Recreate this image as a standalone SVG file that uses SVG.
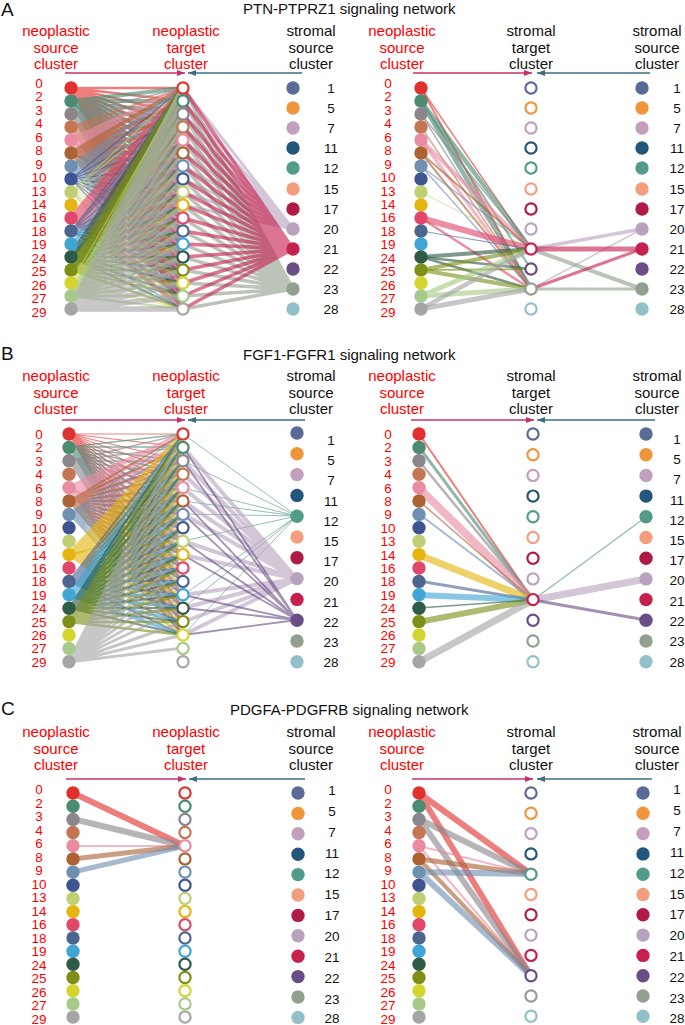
<svg xmlns="http://www.w3.org/2000/svg" width="685" height="1025" viewBox="0 0 685 1025">
<style>
text{font-family:"Liberation Sans",Arial,sans-serif}
.ttl{font-size:15px;fill:#111}
.pl{font-size:19px;fill:#111}
.h{font-size:15px;text-anchor:middle}
.hr{fill:#ff0000}
.hk{fill:#111}
.nl{font-size:13.5px;fill:#ff0000;text-anchor:middle}
.sl{font-size:13.5px;fill:#111;text-anchor:middle}
.n0{fill:#e0312e;stroke:#e0312e}
.n2{fill:#4a8b72;stroke:#4a8b72}
.n3{fill:#8a868c;stroke:#8a868c}
.n4{fill:#c47552;stroke:#c47552}
.n6{fill:#e98ba1;stroke:#e98ba1}
.n8{fill:#ad6234;stroke:#ad6234}
.n9{fill:#6f90b1;stroke:#6f90b1}
.n10{fill:#3e5591;stroke:#3e5591}
.n13{fill:#c0cf72;stroke:#c0cf72}
.n14{fill:#e5b50f;stroke:#e5b50f}
.n16{fill:#e0476b;stroke:#e0476b}
.n18{fill:#4c668f;stroke:#4c668f}
.n19{fill:#3fa5d5;stroke:#3fa5d5}
.n24{fill:#2e5b46;stroke:#2e5b46}
.n25{fill:#7d8f17;stroke:#7d8f17}
.n26{fill:#d4d42f;stroke:#d4d42f}
.n27{fill:#a8ca88;stroke:#a8ca88}
.n29{fill:#a5a5a5;stroke:#a5a5a5}
.s1{fill:#5a6a97;stroke:#5a6a97}
.s5{fill:#f0953a;stroke:#f0953a}
.s7{fill:#c29fbd;stroke:#c29fbd}
.s11{fill:#23567b;stroke:#23567b}
.s12{fill:#529a89;stroke:#529a89}
.s15{fill:#f39f7f;stroke:#f39f7f}
.s17{fill:#b01a47;stroke:#b01a47}
.s20{fill:#b8a3bf;stroke:#b8a3bf}
.s21{fill:#c6214e;stroke:#c6214e}
.s22{fill:#6a4c87;stroke:#6a4c87}
.s23{fill:#939f8f;stroke:#939f8f}
.s28{fill:#93bfc9;stroke:#93bfc9}
.d{stroke:none}
.t{fill:#fff;stroke-width:2.2}
.e{fill:none;stroke-opacity:.62}
.ar{fill:none;stroke:#c8306a;stroke-width:1.3}
.ab{fill:none;stroke:#3d6f80;stroke-width:1.3}
</style>
<defs>
<marker id="mr" viewBox="0 0 8 6" refX="8" refY="3" markerWidth="8" markerHeight="6" markerUnits="userSpaceOnUse" orient="auto"><path d="M0 0L8 3L0 6z" fill="#c8306a"/></marker>
<marker id="mb" viewBox="0 0 8 6" refX="8" refY="3" markerWidth="8" markerHeight="6" markerUnits="userSpaceOnUse" orient="auto"><path d="M0 0L8 3L0 6z" fill="#3d6f80"/></marker>
</defs>
<rect width="685" height="1025" fill="#fff"/>

<g id="titles">
<text class="pl" x="1" y="16">A</text>
<text class="ttl" x="243" y="14">PTN-PTPRZ1 signaling network</text>
<text class="pl" x="1" y="360">B</text>
<text class="ttl" x="243" y="360">FGF1-FGFR1 signaling network</text>
<text class="pl" x="1" y="715">C</text>
<text class="ttl" x="230" y="715">PDGFA-PDGFRB signaling network</text>
</g>

<g id="headers">
<text class="h hr" x="56" y="36">neoplastic<tspan x="56" dy="16.5">source</tspan><tspan x="56" dy="16.5">cluster</tspan></text>
<text class="h hr" x="186" y="36">neoplastic<tspan x="186" dy="16.5">target</tspan><tspan x="186" dy="16.5">cluster</tspan></text>
<text class="h hk" x="311" y="36">stromal<tspan x="311" dy="16.5">source</tspan><tspan x="311" dy="16.5">cluster</tspan></text>
<text class="h hr" x="402" y="36">neoplastic<tspan x="402" dy="16.5">source</tspan><tspan x="402" dy="16.5">cluster</tspan></text>
<text class="h hk" x="531" y="36">stromal<tspan x="531" dy="16.5">target</tspan><tspan x="531" dy="16.5">cluster</tspan></text>
<text class="h hk" x="657" y="36">stromal<tspan x="657" dy="16.5">source</tspan><tspan x="657" dy="16.5">cluster</tspan></text>
<text class="h hr" x="56" y="381">neoplastic<tspan x="56" dy="16.5">source</tspan><tspan x="56" dy="16.5">cluster</tspan></text>
<text class="h hr" x="186" y="381">neoplastic<tspan x="186" dy="16.5">target</tspan><tspan x="186" dy="16.5">cluster</tspan></text>
<text class="h hk" x="311" y="381">stromal<tspan x="311" dy="16.5">source</tspan><tspan x="311" dy="16.5">cluster</tspan></text>
<text class="h hr" x="402" y="381">neoplastic<tspan x="402" dy="16.5">source</tspan><tspan x="402" dy="16.5">cluster</tspan></text>
<text class="h hk" x="531" y="381">stromal<tspan x="531" dy="16.5">target</tspan><tspan x="531" dy="16.5">cluster</tspan></text>
<text class="h hk" x="657" y="381">stromal<tspan x="657" dy="16.5">source</tspan><tspan x="657" dy="16.5">cluster</tspan></text>
<text class="h hr" x="56" y="737">neoplastic<tspan x="56" dy="16.5">source</tspan><tspan x="56" dy="16.5">cluster</tspan></text>
<text class="h hr" x="186" y="737">neoplastic<tspan x="186" dy="16.5">target</tspan><tspan x="186" dy="16.5">cluster</tspan></text>
<text class="h hk" x="311" y="737">stromal<tspan x="311" dy="16.5">source</tspan><tspan x="311" dy="16.5">cluster</tspan></text>
<text class="h hr" x="402" y="737">neoplastic<tspan x="402" dy="16.5">source</tspan><tspan x="402" dy="16.5">cluster</tspan></text>
<text class="h hk" x="531" y="737">stromal<tspan x="531" dy="16.5">target</tspan><tspan x="531" dy="16.5">cluster</tspan></text>
<text class="h hk" x="657" y="737">stromal<tspan x="657" dy="16.5">source</tspan><tspan x="657" dy="16.5">cluster</tspan></text>
</g>

<g id="axes">
<path class="ar" d="M65 73H185" marker-end="url(#mr)"/>
<path class="ab" d="M302 73H188" marker-end="url(#mb)"/>
<path class="ar" d="M413 73H532" marker-end="url(#mr)"/>
<path class="ab" d="M650 73H537" marker-end="url(#mb)"/>
<path class="ar" d="M62 420H185" marker-end="url(#mr)"/>
<path class="ab" d="M305 420H188" marker-end="url(#mb)"/>
<path class="ar" d="M411 420H534" marker-end="url(#mr)"/>
<path class="ab" d="M655 420H537" marker-end="url(#mb)"/>
<path class="ar" d="M66 779H186" marker-end="url(#mr)"/>
<path class="ab" d="M305 779H189" marker-end="url(#mb)"/>
<path class="ar" d="M412 779H533" marker-end="url(#mr)"/>
<path class="ab" d="M652 779H537" marker-end="url(#mb)"/>
</g>

<g id="connectors">
<!-- Panel A left: neoplastic source -> neoplastic target -->
<path class="e n0" stroke-width="2.5" d="M71 88L183 88M71 88L183 101M71 88L183 114M71 88L183 127M71 88L183 140M71 88L183 153M71 88L183 166M71 88L183 179M71 88L183 192M71 88L183 205M71 88L183 218M71 88L183 231M71 88L183 244M71 88L183 257M71 88L183 270M71 88L183 283M71 88L183 296M71 88L183 309"/>
<path class="e n2" stroke-width="4" d="M71 101L183 88M71 101L183 101M71 101L183 114M71 101L183 127M71 101L183 140M71 101L183 153M71 101L183 166M71 101L183 179M71 101L183 192"/>
<path class="e n2" stroke-width="2" d="M71 101L183 205M71 101L183 218M71 101L183 231M71 101L183 244M71 101L183 257M71 101L183 270M71 101L183 283M71 101L183 296M71 101L183 309"/>
<path class="e n3" stroke-width="1.5" d="M71 114L183 88M71 114L183 101M71 114L183 114M71 114L183 127M71 114L183 140M71 114L183 153M71 114L183 166M71 114L183 179M71 114L183 192M71 114L183 205M71 114L183 218M71 114L183 231M71 114L183 244M71 114L183 257M71 114L183 270M71 114L183 283M71 114L183 296M71 114L183 309"/>
<path class="e n4" stroke-width="2" d="M71 127L183 88M71 127L183 101M71 127L183 114M71 127L183 127M71 127L183 140M71 127L183 153M71 127L183 166M71 127L183 179M71 127L183 192M71 127L183 205M71 127L183 218M71 127L183 231M71 127L183 244M71 127L183 257M71 127L183 270M71 127L183 283M71 127L183 296M71 127L183 309"/>
<path class="e n6" stroke-width="4.5" d="M71 140L183 88M71 140L183 101M71 140L183 114M71 140L183 127M71 140L183 140M71 140L183 153M71 140L183 166M71 140L183 179M71 140L183 192M71 140L183 205"/>
<path class="e n6" stroke-width="2.5" d="M71 140L183 218M71 140L183 231M71 140L183 244M71 140L183 257M71 140L183 270M71 140L183 283M71 140L183 296M71 140L183 309"/>
<path class="e n8" stroke-width="4" d="M71 153L183 88M71 153L183 101M71 153L183 114M71 153L183 127M71 153L183 140M71 153L183 153M71 153L183 166M71 153L183 179M71 153L183 192"/>
<path class="e n8" stroke-width="2" d="M71 153L183 205M71 153L183 218M71 153L183 231M71 153L183 244M71 153L183 257M71 153L183 270M71 153L183 283M71 153L183 296M71 153L183 309"/>
<path class="e n9" stroke-width="3" d="M71 166L183 88M71 166L183 101M71 166L183 114M71 166L183 127M71 166L183 140M71 166L183 153M71 166L183 166M71 166L183 179M71 166L183 192M71 166L183 205M71 166L183 218M71 166L183 231M71 166L183 244M71 166L183 257M71 166L183 270M71 166L183 283M71 166L183 296M71 166L183 309"/>
<path class="e n10" stroke-width="1.2" d="M71 179L183 88M71 179L183 114M71 179L183 140M71 179L183 166M71 179L183 192M71 179L183 218M71 179L183 244M71 179L183 270M71 179L183 296"/>
<path class="e n13" stroke-width="1.2" d="M71 192L183 88M71 192L183 101M71 192L183 127M71 192L183 153M71 192L183 179M71 192L183 205M71 192L183 231M71 192L183 257M71 192L183 283M71 192L183 309"/>
<path class="e n16" stroke-width="4.5" d="M71 218L183 88M71 218L183 101M71 218L183 114M71 218L183 127M71 218L183 140M71 218L183 153M71 218L183 166M71 218L183 179M71 218L183 192M71 218L183 205M71 218L183 218M71 218L183 231M71 218L183 244M71 218L183 257M71 218L183 270M71 218L183 283M71 218L183 296M71 218L183 309"/>
<path class="e n18" stroke-width="1.5" d="M71 231L183 88M71 231L183 101M71 231L183 114M71 231L183 140M71 231L183 166M71 231L183 192M71 231L183 218M71 231L183 244M71 231L183 270M71 231L183 296"/>
<path class="e n19" stroke-width="1.5" d="M71 244L183 88M71 244L183 114M71 244L183 127M71 244L183 153M71 244L183 179M71 244L183 205M71 244L183 231M71 244L183 257M71 244L183 283M71 244L183 309"/>
<path class="e n24" stroke-width="6" d="M71 257L183 88M71 257L183 101M71 257L183 114"/>
<path class="e n24" stroke-width="2" d="M71 257L183 127M71 257L183 140M71 257L183 153M71 257L183 166M71 257L183 179M71 257L183 192M71 257L183 205M71 257L183 218M71 257L183 231M71 257L183 244M71 257L183 257M71 257L183 270M71 257L183 283M71 257L183 296M71 257L183 309"/>
<path class="e n25" stroke-width="8" d="M71 270L183 88"/>
<path class="e n25" stroke-width="5" d="M71 270L183 101M71 270L183 114M71 270L183 127"/>
<path class="e n25" stroke-width="2" d="M71 270L183 140M71 270L183 153M71 270L183 166M71 270L183 179M71 270L183 192M71 270L183 205M71 270L183 218M71 270L183 231M71 270L183 244M71 270L183 257M71 270L183 270M71 270L183 283M71 270L183 296M71 270L183 309"/>
<path class="e n26" stroke-width="1.2" d="M71 283L183 88M71 283L183 127M71 283L183 166M71 283L183 205M71 283L183 244M71 283L183 283M71 283L183 309"/>
<path class="e n27" stroke-width="5" d="M71 296L183 88M71 296L183 101M71 296L183 114"/>
<path class="e n27" stroke-width="2.5" d="M71 296L183 127M71 296L183 140M71 296L183 153M71 296L183 166M71 296L183 179M71 296L183 192M71 296L183 205M71 296L183 218M71 296L183 231M71 296L183 244M71 296L183 257M71 296L183 270M71 296L183 283M71 296L183 296M71 296L183 309"/>
<path class="e n29" stroke-width="5.5" d="M71 309L183 88M71 309L183 101M71 309L183 114M71 309L183 127M71 309L183 140M71 309L183 153M71 309L183 166M71 309L183 179M71 309L183 192M71 309L183 205M71 309L183 218M71 309L183 231M71 309L183 244M71 309L183 257M71 309L183 270M71 309L183 283M71 309L183 296M71 309L183 309"/>
<!-- Panel A left: stromal source -> neoplastic target -->
<path class="e s20" stroke-width="3" d="M293 229L183 88M293 229L183 101M293 229L183 114M293 229L183 127M293 229L183 140M293 229L183 153M293 229L183 166M293 229L183 179M293 229L183 192M293 229L183 205"/>
<path class="e s23" stroke-width="3.5" d="M293 289L183 88M293 289L183 101M293 289L183 114M293 289L183 127M293 289L183 140M293 289L183 153M293 289L183 166M293 289L183 179M293 289L183 192M293 289L183 205M293 289L183 218M293 289L183 231M293 289L183 244M293 289L183 257M293 289L183 270M293 289L183 283M293 289L183 296M293 289L183 309"/>
<path class="e s21" stroke-width="3.5" d="M293 249L183 88M293 249L183 101M293 249L183 114M293 249L183 127M293 249L183 140M293 249L183 153M293 249L183 166M293 249L183 179M293 249L183 192M293 249L183 205M293 249L183 218M293 249L183 231M293 249L183 244M293 249L183 257M293 249L183 270M293 249L183 283M293 249L183 296M293 249L183 309"/>

<!-- Panel A right -->
<path class="e n0" stroke-width="2" d="M421 88L531 289"/>
<path class="e n0" stroke-width="1.5" d="M421 88L531 249"/>
<path class="e n2" stroke-width="4.5" d="M421 101L531 249M421 101L531 289"/>
<path class="e n2" stroke-width="2" d="M421 101L531 269"/>
<path class="e n3" stroke-width="1.5" d="M421 114L531 289M421 114L531 249"/>
<path class="e n4" stroke-width="1.5" d="M421 127L531 289"/>
<path class="e n6" stroke-width="4" d="M421 140L531 249"/>
<path class="e n6" stroke-width="3" d="M421 140L531 289"/>
<path class="e n8" stroke-width="2" d="M421 153L531 249M421 153L531 289"/>
<path class="e n9" stroke-width="1.5" d="M421 166L531 249M421 166L531 289"/>
<path class="e n13" stroke-width="1" d="M421 192L531 249"/>
<path class="e n16" stroke-width="6" d="M421 218L531 249"/>
<path class="e n16" stroke-width="2.5" d="M421 218L531 289"/>
<path class="e n18" stroke-width="1.2" d="M421 231L531 249"/>
<path class="e n24" stroke-width="4" d="M421 257L531 249"/>
<path class="e n24" stroke-width="2.5" d="M421 257L531 269M421 257L531 289"/>
<path class="e n25" stroke-width="4" d="M421 270L531 249M421 270L531 289"/>
<path class="e n25" stroke-width="2" d="M421 270L531 269"/>
<path class="e n27" stroke-width="5" d="M421 296L531 249M421 296L531 289"/>
<path class="e n29" stroke-width="4.5" d="M421 309L531 249"/>
<path class="e n29" stroke-width="5" d="M421 309L531 289"/>
<path class="e s20" stroke-width="3.5" d="M642 229L531 249"/>
<path class="e s20" stroke-width="1.5" d="M642 229L531 289"/>
<path class="e s23" stroke-width="4" d="M642 289L531 249"/>
<path class="e s23" stroke-width="3" d="M642 289L531 289"/>
<path class="e s21" stroke-width="5" d="M642 249L531 249"/>
<path class="e s21" stroke-width="3" d="M642 249L531 289"/>

<!-- Panel B left -->
<path class="e n0" stroke-width="1.2" d="M69 434L183 434M69 434L183 447M69 434L183 461M69 434L183 474M69 434L183 488M69 434L183 501M69 434L183 514M69 434L183 528M69 434L183 541M69 434L183 555M69 434L183 568M69 434L183 581M69 434L183 595M69 434L183 608M69 434L183 622M69 434L183 635"/>
<path class="e n2" stroke-width="1.5" d="M69 447L183 434M69 447L183 447M69 447L183 461M69 447L183 474M69 447L183 488M69 447L183 501M69 447L183 514M69 447L183 528M69 447L183 541M69 447L183 555M69 447L183 568M69 447L183 581M69 447L183 595M69 447L183 608M69 447L183 622M69 447L183 635"/>
<path class="e n3" stroke-width="1.5" d="M69 461L183 434M69 461L183 447M69 461L183 461M69 461L183 474M69 461L183 488M69 461L183 501M69 461L183 514M69 461L183 528M69 461L183 541M69 461L183 555M69 461L183 568M69 461L183 581M69 461L183 595M69 461L183 608M69 461L183 622M69 461L183 635"/>
<path class="e n6" stroke-width="5" d="M69 488L183 434M69 488L183 447M69 488L183 461M69 488L183 474M69 488L183 488M69 488L183 501M69 488L183 514M69 488L183 528"/>
<path class="e n6" stroke-width="3" d="M69 488L183 541M69 488L183 555M69 488L183 568M69 488L183 581M69 488L183 595M69 488L183 608M69 488L183 622M69 488L183 635"/>
<path class="e n8" stroke-width="2" d="M69 501L183 434M69 501L183 447M69 501L183 461M69 501L183 474M69 501L183 488M69 501L183 501M69 501L183 514M69 501L183 528M69 501L183 541M69 501L183 555M69 501L183 568M69 501L183 581M69 501L183 595M69 501L183 608M69 501L183 622M69 501L183 635"/>
<path class="e n9" stroke-width="1.5" d="M69 514L183 434M69 514L183 447M69 514L183 461M69 514L183 474M69 514L183 488M69 514L183 501M69 514L183 514M69 514L183 528M69 514L183 541M69 514L183 555M69 514L183 568M69 514L183 581M69 514L183 595M69 514L183 608M69 514L183 622M69 514L183 635"/>
<path class="e n14" stroke-width="5" d="M69 555L183 434M69 555L183 447M69 555L183 461M69 555L183 474M69 555L183 488M69 555L183 501M69 555L183 514"/>
<path class="e n14" stroke-width="2.5" d="M69 555L183 528M69 555L183 541M69 555L183 555M69 555L183 568M69 555L183 581M69 555L183 595M69 555L183 608M69 555L183 622M69 555L183 635"/>
<path class="e n18" stroke-width="2" d="M69 581L183 434M69 581L183 447M69 581L183 461M69 581L183 474M69 581L183 488M69 581L183 501M69 581L183 514M69 581L183 528M69 581L183 541M69 581L183 555M69 581L183 568M69 581L183 581M69 581L183 595M69 581L183 608M69 581L183 622M69 581L183 635"/>
<path class="e n19" stroke-width="3" d="M69 595L183 434M69 595L183 447M69 595L183 461M69 595L183 474M69 595L183 488M69 595L183 501M69 595L183 514M69 595L183 528M69 595L183 541M69 595L183 555M69 595L183 568M69 595L183 581M69 595L183 595M69 595L183 608M69 595L183 622M69 595L183 635"/>
<path class="e n24" stroke-width="2" d="M69 608L183 434M69 608L183 447M69 608L183 461M69 608L183 474M69 608L183 488M69 608L183 501M69 608L183 514M69 608L183 528M69 608L183 541M69 608L183 555M69 608L183 568M69 608L183 581M69 608L183 595M69 608L183 608M69 608L183 622M69 608L183 635"/>
<path class="e n25" stroke-width="2.5" d="M69 622L183 434M69 622L183 447M69 622L183 461M69 622L183 474M69 622L183 488M69 622L183 501M69 622L183 514M69 622L183 528M69 622L183 541M69 622L183 555M69 622L183 568M69 622L183 581M69 622L183 595M69 622L183 608M69 622L183 622M69 622L183 635"/>
<path class="e n29" stroke-width="3" d="M69 662L183 434M69 662L183 447M69 662L183 461M69 662L183 474M69 662L183 488M69 662L183 501M69 662L183 514M69 662L183 528M69 662L183 541M69 662L183 555M69 662L183 568M69 662L183 581M69 662L183 595M69 662L183 608M69 662L183 622M69 662L183 635M69 662L183 648"/>
<path class="e s12" stroke-width="1" d="M297 516L183 434M297 516L183 461M297 516L183 488M297 516L183 501M297 516L183 514M297 516L183 541M297 516L183 595M297 516L183 608M297 516L183 635"/>
<path class="e s20" stroke-width="4" d="M297 579L183 447M297 579L183 461M297 579L183 474M297 579L183 488M297 579L183 501M297 579L183 514M297 579L183 541M297 579L183 555M297 579L183 595M297 579L183 608M297 579L183 622M297 579L183 635"/>
<path class="e s22" stroke-width="1.8" d="M297 620L183 447M297 620L183 461M297 620L183 501M297 620L183 514M297 620L183 541M297 620L183 555M297 620L183 595M297 620L183 608M297 620L183 635"/>

<!-- Panel B right -->
<path class="e n0" stroke-width="2" d="M419 434L533 600"/>
<path class="e n2" stroke-width="3" d="M419 447L533 600"/>
<path class="e n3" stroke-width="2.5" d="M419 461L533 600"/>
<path class="e n6" stroke-width="8" d="M419 488L533 600"/>
<path class="e n8" stroke-width="1.5" d="M419 501L533 600"/>
<path class="e n9" stroke-width="2" d="M419 514L533 600"/>
<path class="e n14" stroke-width="7" d="M419 555L533 600"/>
<path class="e n18" stroke-width="3" d="M419 581L533 600"/>
<path class="e n19" stroke-width="6" d="M419 595L533 600"/>
<path class="e n24" stroke-width="1.5" d="M419 608L533 600"/>
<path class="e n25" stroke-width="6" d="M419 622L533 600"/>
<path class="e n29" stroke-width="7" d="M419 662L533 600"/>
<path class="e s12" stroke-width="1.5" d="M646 517L533 600"/>
<path class="e s20" stroke-width="7" d="M646 579L533 600"/>
<path class="e s22" stroke-width="3" d="M646 620L533 600"/>

<!-- Panel C left -->
<path class="e n0" stroke-width="6" d="M73 793L185 846"/>
<path class="e n3" stroke-width="6" d="M73 819L185 846"/>
<path class="e n6" stroke-width="2" d="M73 846L185 846"/>
<path class="e n8" stroke-width="5" d="M73 859L185 846"/>
<path class="e n9" stroke-width="5" d="M73 872L185 846"/>

<!-- Panel C right -->
<path class="e n0" stroke-width="6" d="M419 793L531 874M419 793L531 976"/>
<path class="e n3" stroke-width="6" d="M419 819L531 874M419 819L531 976"/>
<path class="e n6" stroke-width="2" d="M419 846L531 874M419 846L531 976"/>
<path class="e n8" stroke-width="5" d="M419 859L531 874"/>
<path class="e n8" stroke-width="4" d="M419 859L531 976"/>
<path class="e n9" stroke-width="6" d="M419 872L531 874M419 872L531 976"/>
</g>

<!-- ===== Panel A nodes ===== -->
<g id="a1s0"><circle class="n0 d" cx="71" cy="88" r="6.7"/><text class="nl" x="39" y="87.7">0</text></g>
<g id="a1s2"><circle class="n2 d" cx="71" cy="101" r="6.7"/><text class="nl" x="39" y="101.2">2</text></g>
<g id="a1s3"><circle class="n3 d" cx="71" cy="114" r="6.7"/><text class="nl" x="39" y="114.6">3</text></g>
<g id="a1s4"><circle class="n4 d" cx="71" cy="127" r="6.7"/><text class="nl" x="39" y="128.1">4</text></g>
<g id="a1s6"><circle class="n6 d" cx="71" cy="140" r="6.7"/><text class="nl" x="39" y="141.6">6</text></g>
<g id="a1s8"><circle class="n8 d" cx="71" cy="153" r="6.7"/><text class="nl" x="39" y="155.1">8</text></g>
<g id="a1s9"><circle class="n9 d" cx="71" cy="166" r="6.7"/><text class="nl" x="39" y="168.5">9</text></g>
<g id="a1s10"><circle class="n10 d" cx="71" cy="179" r="6.7"/><text class="nl" x="39" y="182">10</text></g>
<g id="a1s13"><circle class="n13 d" cx="71" cy="192" r="6.7"/><text class="nl" x="39" y="195.5">13</text></g>
<g id="a1s14"><circle class="n14 d" cx="71" cy="205" r="6.7"/><text class="nl" x="39" y="208.9">14</text></g>
<g id="a1s16"><circle class="n16 d" cx="71" cy="218" r="6.7"/><text class="nl" x="39" y="222.4">16</text></g>
<g id="a1s18"><circle class="n18 d" cx="71" cy="231" r="6.7"/><text class="nl" x="39" y="235.9">18</text></g>
<g id="a1s19"><circle class="n19 d" cx="71" cy="244" r="6.7"/><text class="nl" x="39" y="249.3">19</text></g>
<g id="a1s24"><circle class="n24 d" cx="71" cy="257" r="6.7"/><text class="nl" x="39" y="262.8">24</text></g>
<g id="a1s25"><circle class="n25 d" cx="71" cy="270" r="6.7"/><text class="nl" x="39" y="276.3">25</text></g>
<g id="a1s26"><circle class="n26 d" cx="71" cy="283" r="6.7"/><text class="nl" x="39" y="289.7">26</text></g>
<g id="a1s27"><circle class="n27 d" cx="71" cy="296" r="6.7"/><text class="nl" x="39" y="303.2">27</text></g>
<g id="a1s29"><circle class="n29 d" cx="71" cy="309" r="6.7"/><text class="nl" x="39" y="316.7">29</text></g>
<g id="a1t0"><circle class="n0 t" cx="183" cy="88" r="5.6"/></g>
<g id="a1t2"><circle class="n2 t" cx="183" cy="101" r="5.6"/></g>
<g id="a1t3"><circle class="n3 t" cx="183" cy="114" r="5.6"/></g>
<g id="a1t4"><circle class="n4 t" cx="183" cy="127" r="5.6"/></g>
<g id="a1t6"><circle class="n6 t" cx="183" cy="140" r="5.6"/></g>
<g id="a1t8"><circle class="n8 t" cx="183" cy="153" r="5.6"/></g>
<g id="a1t9"><circle class="n9 t" cx="183" cy="166" r="5.6"/></g>
<g id="a1t10"><circle class="n10 t" cx="183" cy="179" r="5.6"/></g>
<g id="a1t13"><circle class="n13 t" cx="183" cy="192" r="5.6"/></g>
<g id="a1t14"><circle class="n14 t" cx="183" cy="205" r="5.6"/></g>
<g id="a1t16"><circle class="n16 t" cx="183" cy="218" r="5.6"/></g>
<g id="a1t18"><circle class="n18 t" cx="183" cy="231" r="5.6"/></g>
<g id="a1t19"><circle class="n19 t" cx="183" cy="244" r="5.6"/></g>
<g id="a1t24"><circle class="n24 t" cx="183" cy="257" r="5.6"/></g>
<g id="a1t25"><circle class="n25 t" cx="183" cy="270" r="5.6"/></g>
<g id="a1t26"><circle class="n26 t" cx="183" cy="283" r="5.6"/></g>
<g id="a1t27"><circle class="n27 t" cx="183" cy="296" r="5.6"/></g>
<g id="a1t29"><circle class="n29 t" cx="183" cy="309" r="5.6"/></g>
<g id="a1m1"><circle class="s1 d" cx="293" cy="88" r="6.7"/><text class="sl" x="331" y="93">1</text></g>
<g id="a1m5"><circle class="s5 d" cx="293" cy="108" r="6.7"/><text class="sl" x="331" y="113">5</text></g>
<g id="a1m7"><circle class="s7 d" cx="293" cy="128" r="6.7"/><text class="sl" x="331" y="133">7</text></g>
<g id="a1m11"><circle class="s11 d" cx="293" cy="148" r="6.7"/><text class="sl" x="331" y="153">11</text></g>
<g id="a1m12"><circle class="s12 d" cx="293" cy="168" r="6.7"/><text class="sl" x="331" y="173">12</text></g>
<g id="a1m15"><circle class="s15 d" cx="293" cy="189" r="6.7"/><text class="sl" x="331" y="194">15</text></g>
<g id="a1m17"><circle class="s17 d" cx="293" cy="209" r="6.7"/><text class="sl" x="331" y="214">17</text></g>
<g id="a1m20"><circle class="s20 d" cx="293" cy="229" r="6.7"/><text class="sl" x="331" y="234">20</text></g>
<g id="a1m21"><circle class="s21 d" cx="293" cy="249" r="6.7"/><text class="sl" x="331" y="254">21</text></g>
<g id="a1m22"><circle class="s22 d" cx="293" cy="269" r="6.7"/><text class="sl" x="331" y="274">22</text></g>
<g id="a1m23"><circle class="s23 d" cx="293" cy="289" r="6.7"/><text class="sl" x="331" y="294">23</text></g>
<g id="a1m28"><circle class="s28 d" cx="293" cy="309" r="6.7"/><text class="sl" x="331" y="314">28</text></g>

<g id="a2s0"><circle class="n0 d" cx="421" cy="88" r="6.7"/><text class="nl" x="388" y="87.7">0</text></g>
<g id="a2s2"><circle class="n2 d" cx="421" cy="101" r="6.7"/><text class="nl" x="388" y="101.2">2</text></g>
<g id="a2s3"><circle class="n3 d" cx="421" cy="114" r="6.7"/><text class="nl" x="388" y="114.6">3</text></g>
<g id="a2s4"><circle class="n4 d" cx="421" cy="127" r="6.7"/><text class="nl" x="388" y="128.1">4</text></g>
<g id="a2s6"><circle class="n6 d" cx="421" cy="140" r="6.7"/><text class="nl" x="388" y="141.6">6</text></g>
<g id="a2s8"><circle class="n8 d" cx="421" cy="153" r="6.7"/><text class="nl" x="388" y="155.1">8</text></g>
<g id="a2s9"><circle class="n9 d" cx="421" cy="166" r="6.7"/><text class="nl" x="388" y="168.5">9</text></g>
<g id="a2s10"><circle class="n10 d" cx="421" cy="179" r="6.7"/><text class="nl" x="388" y="182">10</text></g>
<g id="a2s13"><circle class="n13 d" cx="421" cy="192" r="6.7"/><text class="nl" x="388" y="195.5">13</text></g>
<g id="a2s14"><circle class="n14 d" cx="421" cy="205" r="6.7"/><text class="nl" x="388" y="208.9">14</text></g>
<g id="a2s16"><circle class="n16 d" cx="421" cy="218" r="6.7"/><text class="nl" x="388" y="222.4">16</text></g>
<g id="a2s18"><circle class="n18 d" cx="421" cy="231" r="6.7"/><text class="nl" x="388" y="235.9">18</text></g>
<g id="a2s19"><circle class="n19 d" cx="421" cy="244" r="6.7"/><text class="nl" x="388" y="249.3">19</text></g>
<g id="a2s24"><circle class="n24 d" cx="421" cy="257" r="6.7"/><text class="nl" x="388" y="262.8">24</text></g>
<g id="a2s25"><circle class="n25 d" cx="421" cy="270" r="6.7"/><text class="nl" x="388" y="276.3">25</text></g>
<g id="a2s26"><circle class="n26 d" cx="421" cy="283" r="6.7"/><text class="nl" x="388" y="289.7">26</text></g>
<g id="a2s27"><circle class="n27 d" cx="421" cy="296" r="6.7"/><text class="nl" x="388" y="303.2">27</text></g>
<g id="a2s29"><circle class="n29 d" cx="421" cy="309" r="6.7"/><text class="nl" x="388" y="316.7">29</text></g>
<g id="a2t1"><circle class="s1 t" cx="531" cy="88" r="5.6"/></g>
<g id="a2t5"><circle class="s5 t" cx="531" cy="108" r="5.6"/></g>
<g id="a2t7"><circle class="s7 t" cx="531" cy="128" r="5.6"/></g>
<g id="a2t11"><circle class="s11 t" cx="531" cy="148" r="5.6"/></g>
<g id="a2t12"><circle class="s12 t" cx="531" cy="168" r="5.6"/></g>
<g id="a2t15"><circle class="s15 t" cx="531" cy="189" r="5.6"/></g>
<g id="a2t17"><circle class="s17 t" cx="531" cy="209" r="5.6"/></g>
<g id="a2t20"><circle class="s20 t" cx="531" cy="229" r="5.6"/></g>
<g id="a2t21"><circle class="s21 t" cx="531" cy="249" r="5.6"/></g>
<g id="a2t22"><circle class="s22 t" cx="531" cy="269" r="5.6"/></g>
<g id="a2t23"><circle class="s23 t" cx="531" cy="289" r="5.6"/></g>
<g id="a2t28"><circle class="s28 t" cx="531" cy="309" r="5.6"/></g>
<g id="a2m1"><circle class="s1 d" cx="642" cy="88" r="6.7"/><text class="sl" x="677" y="93">1</text></g>
<g id="a2m5"><circle class="s5 d" cx="642" cy="108" r="6.7"/><text class="sl" x="677" y="113">5</text></g>
<g id="a2m7"><circle class="s7 d" cx="642" cy="128" r="6.7"/><text class="sl" x="677" y="133">7</text></g>
<g id="a2m11"><circle class="s11 d" cx="642" cy="148" r="6.7"/><text class="sl" x="677" y="153">11</text></g>
<g id="a2m12"><circle class="s12 d" cx="642" cy="168" r="6.7"/><text class="sl" x="677" y="173">12</text></g>
<g id="a2m15"><circle class="s15 d" cx="642" cy="189" r="6.7"/><text class="sl" x="677" y="194">15</text></g>
<g id="a2m17"><circle class="s17 d" cx="642" cy="209" r="6.7"/><text class="sl" x="677" y="214">17</text></g>
<g id="a2m20"><circle class="s20 d" cx="642" cy="229" r="6.7"/><text class="sl" x="677" y="234">20</text></g>
<g id="a2m21"><circle class="s21 d" cx="642" cy="249" r="6.7"/><text class="sl" x="677" y="254">21</text></g>
<g id="a2m22"><circle class="s22 d" cx="642" cy="269" r="6.7"/><text class="sl" x="677" y="274">22</text></g>
<g id="a2m23"><circle class="s23 d" cx="642" cy="289" r="6.7"/><text class="sl" x="677" y="294">23</text></g>
<g id="a2m28"><circle class="s28 d" cx="642" cy="309" r="6.7"/><text class="sl" x="677" y="314">28</text></g>

<!-- ===== Panel B nodes ===== -->
<g id="b1s0"><circle class="n0 d" cx="69" cy="434" r="6.7"/><text class="nl" x="39" y="439">0</text></g>
<g id="b1s2"><circle class="n2 d" cx="69" cy="447.4" r="6.7"/><text class="nl" x="39" y="452.4">2</text></g>
<g id="b1s3"><circle class="n3 d" cx="69" cy="460.8" r="6.7"/><text class="nl" x="39" y="465.8">3</text></g>
<g id="b1s4"><circle class="n4 d" cx="69" cy="474.2" r="6.7"/><text class="nl" x="39" y="479.2">4</text></g>
<g id="b1s6"><circle class="n6 d" cx="69" cy="487.6" r="6.7"/><text class="nl" x="39" y="492.6">6</text></g>
<g id="b1s8"><circle class="n8 d" cx="69" cy="501" r="6.7"/><text class="nl" x="39" y="506">8</text></g>
<g id="b1s9"><circle class="n9 d" cx="69" cy="514.4" r="6.7"/><text class="nl" x="39" y="519.4">9</text></g>
<g id="b1s10"><circle class="n10 d" cx="69" cy="527.8" r="6.7"/><text class="nl" x="39" y="532.8">10</text></g>
<g id="b1s13"><circle class="n13 d" cx="69" cy="541.2" r="6.7"/><text class="nl" x="39" y="546.2">13</text></g>
<g id="b1s14"><circle class="n14 d" cx="69" cy="554.6" r="6.7"/><text class="nl" x="39" y="559.6">14</text></g>
<g id="b1s16"><circle class="n16 d" cx="69" cy="568" r="6.7"/><text class="nl" x="39" y="573">16</text></g>
<g id="b1s18"><circle class="n18 d" cx="69" cy="581.4" r="6.7"/><text class="nl" x="39" y="586.4">18</text></g>
<g id="b1s19"><circle class="n19 d" cx="69" cy="594.8" r="6.7"/><text class="nl" x="39" y="599.8">19</text></g>
<g id="b1s24"><circle class="n24 d" cx="69" cy="608.2" r="6.7"/><text class="nl" x="39" y="613.2">24</text></g>
<g id="b1s25"><circle class="n25 d" cx="69" cy="621.6" r="6.7"/><text class="nl" x="39" y="626.6">25</text></g>
<g id="b1s26"><circle class="n26 d" cx="69" cy="635" r="6.7"/><text class="nl" x="39" y="640">26</text></g>
<g id="b1s27"><circle class="n27 d" cx="69" cy="648.4" r="6.7"/><text class="nl" x="39" y="653.4">27</text></g>
<g id="b1s29"><circle class="n29 d" cx="69" cy="661.8" r="6.7"/><text class="nl" x="39" y="666.8">29</text></g>
<g id="b1t0"><circle class="n0 t" cx="183" cy="434" r="5.6"/></g>
<g id="b1t2"><circle class="n2 t" cx="183" cy="447.4" r="5.6"/></g>
<g id="b1t3"><circle class="n3 t" cx="183" cy="460.8" r="5.6"/></g>
<g id="b1t4"><circle class="n4 t" cx="183" cy="474.2" r="5.6"/></g>
<g id="b1t6"><circle class="n6 t" cx="183" cy="487.6" r="5.6"/></g>
<g id="b1t8"><circle class="n8 t" cx="183" cy="501" r="5.6"/></g>
<g id="b1t9"><circle class="n9 t" cx="183" cy="514.4" r="5.6"/></g>
<g id="b1t10"><circle class="n10 t" cx="183" cy="527.8" r="5.6"/></g>
<g id="b1t13"><circle class="n13 t" cx="183" cy="541.2" r="5.6"/></g>
<g id="b1t14"><circle class="n14 t" cx="183" cy="554.6" r="5.6"/></g>
<g id="b1t16"><circle class="n16 t" cx="183" cy="568" r="5.6"/></g>
<g id="b1t18"><circle class="n18 t" cx="183" cy="581.4" r="5.6"/></g>
<g id="b1t19"><circle class="n19 t" cx="183" cy="594.8" r="5.6"/></g>
<g id="b1t24"><circle class="n24 t" cx="183" cy="608.2" r="5.6"/></g>
<g id="b1t25"><circle class="n25 t" cx="183" cy="621.6" r="5.6"/></g>
<g id="b1t26"><circle class="n26 t" cx="183" cy="635" r="5.6"/></g>
<g id="b1t27"><circle class="n27 t" cx="183" cy="648.4" r="5.6"/></g>
<g id="b1t29"><circle class="n29 t" cx="183" cy="661.8" r="5.6"/></g>
<g id="b1m1"><circle class="s1 d" cx="297" cy="433" r="6.7"/><text class="sl" x="331" y="445">1</text></g>
<g id="b1m5"><circle class="s5 d" cx="297" cy="453.8" r="6.7"/><text class="sl" x="331" y="465.2">5</text></g>
<g id="b1m7"><circle class="s7 d" cx="297" cy="474.6" r="6.7"/><text class="sl" x="331" y="485.4">7</text></g>
<g id="b1m11"><circle class="s11 d" cx="297" cy="495.4" r="6.7"/><text class="sl" x="331" y="505.6">11</text></g>
<g id="b1m12"><circle class="s12 d" cx="297" cy="516.2" r="6.7"/><text class="sl" x="331" y="525.8">12</text></g>
<g id="b1m15"><circle class="s15 d" cx="297" cy="537" r="6.7"/><text class="sl" x="331" y="546">15</text></g>
<g id="b1m17"><circle class="s17 d" cx="297" cy="557.8" r="6.7"/><text class="sl" x="331" y="566.2">17</text></g>
<g id="b1m20"><circle class="s20 d" cx="297" cy="578.6" r="6.7"/><text class="sl" x="331" y="586.4">20</text></g>
<g id="b1m21"><circle class="s21 d" cx="297" cy="599.4" r="6.7"/><text class="sl" x="331" y="606.6">21</text></g>
<g id="b1m22"><circle class="s22 d" cx="297" cy="620.2" r="6.7"/><text class="sl" x="331" y="626.8">22</text></g>
<g id="b1m23"><circle class="s23 d" cx="297" cy="641" r="6.7"/><text class="sl" x="331" y="647">23</text></g>
<g id="b1m28"><circle class="s28 d" cx="297" cy="661.8" r="6.7"/><text class="sl" x="331" y="667.2">28</text></g>

<g id="b2s0"><circle class="n0 d" cx="419" cy="434" r="6.7"/><text class="nl" x="388" y="439">0</text></g>
<g id="b2s2"><circle class="n2 d" cx="419" cy="447.4" r="6.7"/><text class="nl" x="388" y="452.4">2</text></g>
<g id="b2s3"><circle class="n3 d" cx="419" cy="460.8" r="6.7"/><text class="nl" x="388" y="465.8">3</text></g>
<g id="b2s4"><circle class="n4 d" cx="419" cy="474.2" r="6.7"/><text class="nl" x="388" y="479.2">4</text></g>
<g id="b2s6"><circle class="n6 d" cx="419" cy="487.6" r="6.7"/><text class="nl" x="388" y="492.6">6</text></g>
<g id="b2s8"><circle class="n8 d" cx="419" cy="501" r="6.7"/><text class="nl" x="388" y="506">8</text></g>
<g id="b2s9"><circle class="n9 d" cx="419" cy="514.4" r="6.7"/><text class="nl" x="388" y="519.4">9</text></g>
<g id="b2s10"><circle class="n10 d" cx="419" cy="527.8" r="6.7"/><text class="nl" x="388" y="532.8">10</text></g>
<g id="b2s13"><circle class="n13 d" cx="419" cy="541.2" r="6.7"/><text class="nl" x="388" y="546.2">13</text></g>
<g id="b2s14"><circle class="n14 d" cx="419" cy="554.6" r="6.7"/><text class="nl" x="388" y="559.6">14</text></g>
<g id="b2s16"><circle class="n16 d" cx="419" cy="568" r="6.7"/><text class="nl" x="388" y="573">16</text></g>
<g id="b2s18"><circle class="n18 d" cx="419" cy="581.4" r="6.7"/><text class="nl" x="388" y="586.4">18</text></g>
<g id="b2s19"><circle class="n19 d" cx="419" cy="594.8" r="6.7"/><text class="nl" x="388" y="599.8">19</text></g>
<g id="b2s24"><circle class="n24 d" cx="419" cy="608.2" r="6.7"/><text class="nl" x="388" y="613.2">24</text></g>
<g id="b2s25"><circle class="n25 d" cx="419" cy="621.6" r="6.7"/><text class="nl" x="388" y="626.6">25</text></g>
<g id="b2s26"><circle class="n26 d" cx="419" cy="635" r="6.7"/><text class="nl" x="388" y="640">26</text></g>
<g id="b2s27"><circle class="n27 d" cx="419" cy="648.4" r="6.7"/><text class="nl" x="388" y="653.4">27</text></g>
<g id="b2s29"><circle class="n29 d" cx="419" cy="661.8" r="6.7"/><text class="nl" x="388" y="666.8">29</text></g>
<g id="b2t1"><circle class="s1 t" cx="533" cy="434" r="5.6"/></g>
<g id="b2t5"><circle class="s5 t" cx="533" cy="454.7" r="5.6"/></g>
<g id="b2t7"><circle class="s7 t" cx="533" cy="475.4" r="5.6"/></g>
<g id="b2t11"><circle class="s11 t" cx="533" cy="496.1" r="5.6"/></g>
<g id="b2t12"><circle class="s12 t" cx="533" cy="516.8" r="5.6"/></g>
<g id="b2t15"><circle class="s15 t" cx="533" cy="537.5" r="5.6"/></g>
<g id="b2t17"><circle class="s17 t" cx="533" cy="558.2" r="5.6"/></g>
<g id="b2t20"><circle class="s20 t" cx="533" cy="578.9" r="5.6"/></g>
<g id="b2t21"><circle class="s21 t" cx="533" cy="599.6" r="5.6"/></g>
<g id="b2t22"><circle class="s22 t" cx="533" cy="620.3" r="5.6"/></g>
<g id="b2t23"><circle class="s23 t" cx="533" cy="641" r="5.6"/></g>
<g id="b2t28"><circle class="s28 t" cx="533" cy="661.7" r="5.6"/></g>
<g id="b2m1"><circle class="s1 d" cx="646" cy="434" r="6.7"/><text class="sl" x="677" y="444">1</text></g>
<g id="b2m5"><circle class="s5 d" cx="646" cy="454.7" r="6.7"/><text class="sl" x="677" y="464.2">5</text></g>
<g id="b2m7"><circle class="s7 d" cx="646" cy="475.4" r="6.7"/><text class="sl" x="677" y="484.4">7</text></g>
<g id="b2m11"><circle class="s11 d" cx="646" cy="496.1" r="6.7"/><text class="sl" x="677" y="504.6">11</text></g>
<g id="b2m12"><circle class="s12 d" cx="646" cy="516.8" r="6.7"/><text class="sl" x="677" y="524.8">12</text></g>
<g id="b2m15"><circle class="s15 d" cx="646" cy="537.5" r="6.7"/><text class="sl" x="677" y="545">15</text></g>
<g id="b2m17"><circle class="s17 d" cx="646" cy="558.2" r="6.7"/><text class="sl" x="677" y="565.2">17</text></g>
<g id="b2m20"><circle class="s20 d" cx="646" cy="578.9" r="6.7"/><text class="sl" x="677" y="585.4">20</text></g>
<g id="b2m21"><circle class="s21 d" cx="646" cy="599.6" r="6.7"/><text class="sl" x="677" y="605.6">21</text></g>
<g id="b2m22"><circle class="s22 d" cx="646" cy="620.3" r="6.7"/><text class="sl" x="677" y="625.8">22</text></g>
<g id="b2m23"><circle class="s23 d" cx="646" cy="641" r="6.7"/><text class="sl" x="677" y="646">23</text></g>
<g id="b2m28"><circle class="s28 d" cx="646" cy="661.7" r="6.7"/><text class="sl" x="677" y="667">28</text></g>

<!-- ===== Panel C nodes ===== -->
<g id="c1s0"><circle class="n0 d" cx="73" cy="793" r="6.7"/><text class="nl" x="39" y="794">0</text></g>
<g id="c1s2"><circle class="n2 d" cx="73" cy="806.2" r="6.7"/><text class="nl" x="39" y="807.5">2</text></g>
<g id="c1s3"><circle class="n3 d" cx="73" cy="819.4" r="6.7"/><text class="nl" x="39" y="821">3</text></g>
<g id="c1s4"><circle class="n4 d" cx="73" cy="832.5" r="6.7"/><text class="nl" x="39" y="834.5">4</text></g>
<g id="c1s6"><circle class="n6 d" cx="73" cy="845.7" r="6.7"/><text class="nl" x="39" y="848">6</text></g>
<g id="c1s8"><circle class="n8 d" cx="73" cy="858.9" r="6.7"/><text class="nl" x="39" y="861.5">8</text></g>
<g id="c1s9"><circle class="n9 d" cx="73" cy="872.1" r="6.7"/><text class="nl" x="39" y="875">9</text></g>
<g id="c1s10"><circle class="n10 d" cx="73" cy="885.3" r="6.7"/><text class="nl" x="39" y="888.5">10</text></g>
<g id="c1s13"><circle class="n13 d" cx="73" cy="898.4" r="6.7"/><text class="nl" x="39" y="902">13</text></g>
<g id="c1s14"><circle class="n14 d" cx="73" cy="911.6" r="6.7"/><text class="nl" x="39" y="915.5">14</text></g>
<g id="c1s16"><circle class="n16 d" cx="73" cy="924.8" r="6.7"/><text class="nl" x="39" y="929">16</text></g>
<g id="c1s18"><circle class="n18 d" cx="73" cy="938" r="6.7"/><text class="nl" x="39" y="942.5">18</text></g>
<g id="c1s19"><circle class="n19 d" cx="73" cy="951.2" r="6.7"/><text class="nl" x="39" y="956">19</text></g>
<g id="c1s24"><circle class="n24 d" cx="73" cy="964.3" r="6.7"/><text class="nl" x="39" y="969.5">24</text></g>
<g id="c1s25"><circle class="n25 d" cx="73" cy="977.5" r="6.7"/><text class="nl" x="39" y="983">25</text></g>
<g id="c1s26"><circle class="n26 d" cx="73" cy="990.7" r="6.7"/><text class="nl" x="39" y="996.5">26</text></g>
<g id="c1s27"><circle class="n27 d" cx="73" cy="1003.9" r="6.7"/><text class="nl" x="39" y="1010">27</text></g>
<g id="c1s29"><circle class="n29 d" cx="73" cy="1017.1" r="6.7"/><text class="nl" x="39" y="1023.5">29</text></g>
<g id="c1t0"><circle class="n0 t" cx="185" cy="793" r="5.6"/></g>
<g id="c1t2"><circle class="n2 t" cx="185" cy="806.2" r="5.6"/></g>
<g id="c1t3"><circle class="n3 t" cx="185" cy="819.4" r="5.6"/></g>
<g id="c1t4"><circle class="n4 t" cx="185" cy="832.5" r="5.6"/></g>
<g id="c1t6"><circle class="n6 t" cx="185" cy="845.7" r="5.6"/></g>
<g id="c1t8"><circle class="n8 t" cx="185" cy="858.9" r="5.6"/></g>
<g id="c1t9"><circle class="n9 t" cx="185" cy="872.1" r="5.6"/></g>
<g id="c1t10"><circle class="n10 t" cx="185" cy="885.3" r="5.6"/></g>
<g id="c1t13"><circle class="n13 t" cx="185" cy="898.4" r="5.6"/></g>
<g id="c1t14"><circle class="n14 t" cx="185" cy="911.6" r="5.6"/></g>
<g id="c1t16"><circle class="n16 t" cx="185" cy="924.8" r="5.6"/></g>
<g id="c1t18"><circle class="n18 t" cx="185" cy="938" r="5.6"/></g>
<g id="c1t19"><circle class="n19 t" cx="185" cy="951.2" r="5.6"/></g>
<g id="c1t24"><circle class="n24 t" cx="185" cy="964.3" r="5.6"/></g>
<g id="c1t25"><circle class="n25 t" cx="185" cy="977.5" r="5.6"/></g>
<g id="c1t26"><circle class="n26 t" cx="185" cy="990.7" r="5.6"/></g>
<g id="c1t27"><circle class="n27 t" cx="185" cy="1003.9" r="5.6"/></g>
<g id="c1t29"><circle class="n29 t" cx="185" cy="1017.1" r="5.6"/></g>
<g id="c1m1"><circle class="s1 d" cx="298" cy="793" r="6.7"/><text class="sl" x="332" y="795">1</text></g>
<g id="c1m5"><circle class="s5 d" cx="298" cy="813.4" r="6.7"/><text class="sl" x="332" y="815.9">5</text></g>
<g id="c1m7"><circle class="s7 d" cx="298" cy="833.8" r="6.7"/><text class="sl" x="332" y="836.7">7</text></g>
<g id="c1m11"><circle class="s11 d" cx="298" cy="854.2" r="6.7"/><text class="sl" x="332" y="857.6">11</text></g>
<g id="c1m12"><circle class="s12 d" cx="298" cy="874.6" r="6.7"/><text class="sl" x="332" y="878.4">12</text></g>
<g id="c1m15"><circle class="s15 d" cx="298" cy="895" r="6.7"/><text class="sl" x="332" y="899.3">15</text></g>
<g id="c1m17"><circle class="s17 d" cx="298" cy="915.4" r="6.7"/><text class="sl" x="332" y="920.1">17</text></g>
<g id="c1m20"><circle class="s20 d" cx="298" cy="935.8" r="6.7"/><text class="sl" x="332" y="941">20</text></g>
<g id="c1m21"><circle class="s21 d" cx="298" cy="956.2" r="6.7"/><text class="sl" x="332" y="961.8">21</text></g>
<g id="c1m22"><circle class="s22 d" cx="298" cy="976.6" r="6.7"/><text class="sl" x="332" y="982.7">22</text></g>
<g id="c1m23"><circle class="s23 d" cx="298" cy="997" r="6.7"/><text class="sl" x="332" y="1003.5">23</text></g>
<g id="c1m28"><circle class="s28 d" cx="298" cy="1017.4" r="6.7"/><text class="sl" x="332" y="1023.3">28</text></g>

<g id="c2s0"><circle class="n0 d" cx="419" cy="793" r="6.7"/><text class="nl" x="388" y="794">0</text></g>
<g id="c2s2"><circle class="n2 d" cx="419" cy="806.2" r="6.7"/><text class="nl" x="388" y="807.5">2</text></g>
<g id="c2s3"><circle class="n3 d" cx="419" cy="819.4" r="6.7"/><text class="nl" x="388" y="821">3</text></g>
<g id="c2s4"><circle class="n4 d" cx="419" cy="832.5" r="6.7"/><text class="nl" x="388" y="834.5">4</text></g>
<g id="c2s6"><circle class="n6 d" cx="419" cy="845.7" r="6.7"/><text class="nl" x="388" y="848">6</text></g>
<g id="c2s8"><circle class="n8 d" cx="419" cy="858.9" r="6.7"/><text class="nl" x="388" y="861.5">8</text></g>
<g id="c2s9"><circle class="n9 d" cx="419" cy="872.1" r="6.7"/><text class="nl" x="388" y="875">9</text></g>
<g id="c2s10"><circle class="n10 d" cx="419" cy="885.3" r="6.7"/><text class="nl" x="388" y="888.5">10</text></g>
<g id="c2s13"><circle class="n13 d" cx="419" cy="898.4" r="6.7"/><text class="nl" x="388" y="902">13</text></g>
<g id="c2s14"><circle class="n14 d" cx="419" cy="911.6" r="6.7"/><text class="nl" x="388" y="915.5">14</text></g>
<g id="c2s16"><circle class="n16 d" cx="419" cy="924.8" r="6.7"/><text class="nl" x="388" y="929">16</text></g>
<g id="c2s18"><circle class="n18 d" cx="419" cy="938" r="6.7"/><text class="nl" x="388" y="942.5">18</text></g>
<g id="c2s19"><circle class="n19 d" cx="419" cy="951.2" r="6.7"/><text class="nl" x="388" y="956">19</text></g>
<g id="c2s24"><circle class="n24 d" cx="419" cy="964.3" r="6.7"/><text class="nl" x="388" y="969.5">24</text></g>
<g id="c2s25"><circle class="n25 d" cx="419" cy="977.5" r="6.7"/><text class="nl" x="388" y="983">25</text></g>
<g id="c2s26"><circle class="n26 d" cx="419" cy="990.7" r="6.7"/><text class="nl" x="388" y="996.5">26</text></g>
<g id="c2s27"><circle class="n27 d" cx="419" cy="1003.9" r="6.7"/><text class="nl" x="388" y="1010">27</text></g>
<g id="c2s29"><circle class="n29 d" cx="419" cy="1017.1" r="6.7"/><text class="nl" x="388" y="1023.5">29</text></g>
<g id="c2t1"><circle class="s1 t" cx="531" cy="793" r="5.6"/></g>
<g id="c2t5"><circle class="s5 t" cx="531" cy="813.3" r="5.6"/></g>
<g id="c2t7"><circle class="s7 t" cx="531" cy="833.6" r="5.6"/></g>
<g id="c2t11"><circle class="s11 t" cx="531" cy="853.9" r="5.6"/></g>
<g id="c2t12"><circle class="s12 t" cx="531" cy="874.2" r="5.6"/></g>
<g id="c2t15"><circle class="s15 t" cx="531" cy="894.5" r="5.6"/></g>
<g id="c2t17"><circle class="s17 t" cx="531" cy="914.8" r="5.6"/></g>
<g id="c2t20"><circle class="s20 t" cx="531" cy="935.1" r="5.6"/></g>
<g id="c2t21"><circle class="s21 t" cx="531" cy="955.4" r="5.6"/></g>
<g id="c2t22"><circle class="s22 t" cx="531" cy="975.7" r="5.6"/></g>
<g id="c2t23"><circle class="s23 t" cx="531" cy="996" r="5.6"/></g>
<g id="c2t28"><circle class="s28 t" cx="531" cy="1016.3" r="5.6"/></g>
<g id="c2m1"><circle class="s1 d" cx="643" cy="793" r="6.7"/><text class="sl" x="677" y="794">1</text></g>
<g id="c2m5"><circle class="s5 d" cx="643" cy="813.3" r="6.7"/><text class="sl" x="677" y="814.9">5</text></g>
<g id="c2m7"><circle class="s7 d" cx="643" cy="833.6" r="6.7"/><text class="sl" x="677" y="835.8">7</text></g>
<g id="c2m11"><circle class="s11 d" cx="643" cy="853.9" r="6.7"/><text class="sl" x="677" y="856.7">11</text></g>
<g id="c2m12"><circle class="s12 d" cx="643" cy="874.2" r="6.7"/><text class="sl" x="677" y="877.6">12</text></g>
<g id="c2m15"><circle class="s15 d" cx="643" cy="894.5" r="6.7"/><text class="sl" x="677" y="898.5">15</text></g>
<g id="c2m17"><circle class="s17 d" cx="643" cy="914.8" r="6.7"/><text class="sl" x="677" y="919.4">17</text></g>
<g id="c2m20"><circle class="s20 d" cx="643" cy="935.1" r="6.7"/><text class="sl" x="677" y="940.3">20</text></g>
<g id="c2m21"><circle class="s21 d" cx="643" cy="955.4" r="6.7"/><text class="sl" x="677" y="961.2">21</text></g>
<g id="c2m22"><circle class="s22 d" cx="643" cy="975.7" r="6.7"/><text class="sl" x="677" y="982.1">22</text></g>
<g id="c2m23"><circle class="s23 d" cx="643" cy="996" r="6.7"/><text class="sl" x="677" y="1003">23</text></g>
<g id="c2m28"><circle class="s28 d" cx="643" cy="1016.3" r="6.7"/><text class="sl" x="677" y="1023.3">28</text></g>
</svg>
